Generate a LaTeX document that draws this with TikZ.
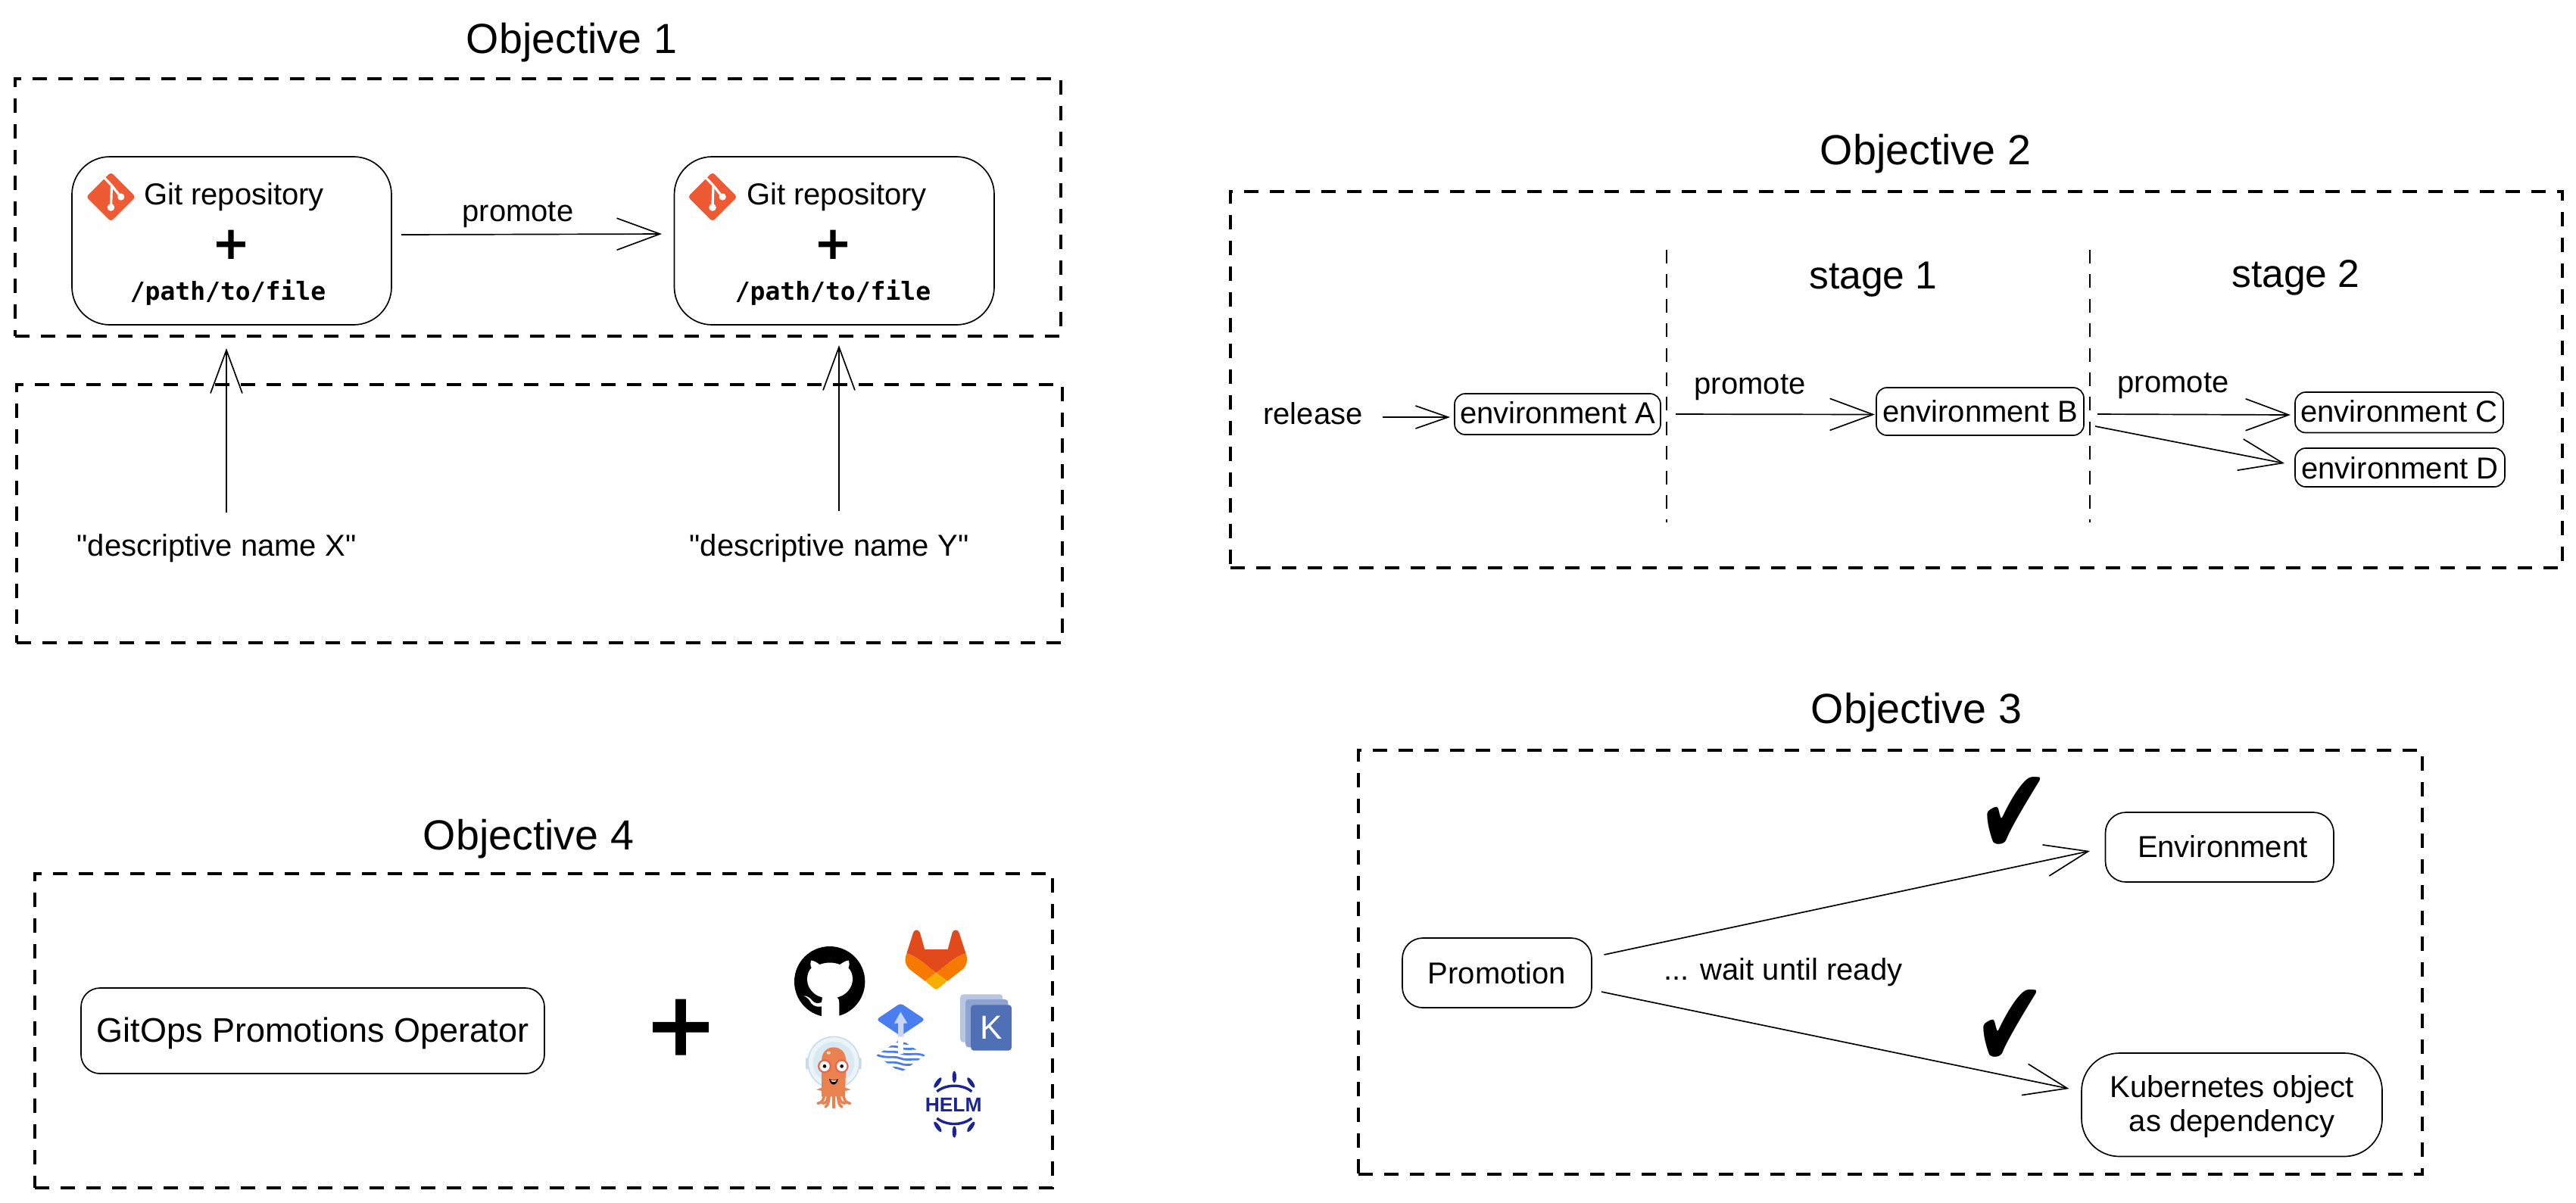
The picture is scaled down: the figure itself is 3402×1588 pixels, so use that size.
\documentclass[tikz,border=0pt]{standalone}
\usepackage{fontspec}
\setmainfont{Liberation Sans}
\setmonofont{DejaVu Sans Mono}
\newfontfamily\dejavu{DejaVu Sans}
\newfontfamily\plainsans{Liberation Sans}
\newfontfamily\plusfont[FakeBold=2.5]{Liberation Sans}
\usetikzlibrary{arrows.meta}
\definecolor{gitorange}{HTML}{EE5A33}
\definecolor{helmblue}{HTML}{1A2494}
\definecolor{fluxblue}{HTML}{4A7EF0}
\definecolor{fluxlight}{HTML}{C7D6F9}
\definecolor{kfront}{HTML}{4F70B5}
\definecolor{kmid}{HTML}{8FA3D2}
\definecolor{kback}{HTML}{B7C6E2}
\definecolor{glred}{HTML}{E24A1B}
\definecolor{glorange}{HTML}{F67A00}
\definecolor{glyellow}{HTML}{F6AE00}
\definecolor{argo}{HTML}{E9824F}
\definecolor{argoring}{HTML}{C8DCF0}
\definecolor{argoglass}{HTML}{EAF4F9}
\definecolor{argoinner}{HTML}{D8E9F2}
\definecolor{argoeye}{HTML}{E8654F}
\tikzset{
  wh/.style 2 args={minimum width=#1*0.25pt,minimum height=#2*0.25pt},
  frame/.style={draw,line width=0.8pt,dash pattern=on 4.75pt off 3.75pt,inner sep=0pt,outer sep=0pt},
  divider/.style={line width=0.5pt,dash pattern=on 4.5pt off 3.6pt},
  rbox/.style={draw,line width=0.42pt,rounded corners=#1*0.25pt,inner sep=0pt,outer sep=0pt,font=\fontsize{10}{11}\selectfont},
  bl/.style={text height=#1*0.5pt+2.5pt,text depth=2.5pt},
  lbl/.style={inner sep=0pt,outer sep=0pt,anchor=base,font=\fontsize{10}{11}\selectfont},
  desclbl/.style={lbl,font=\plainsans\fontsize{10}{11}\selectfont},
  titlelbl/.style={lbl,font=\fontsize{13.9}{15}\selectfont},
  stagelbl/.style={lbl,font=\fontsize{12.9}{14}\selectfont},
  pathlbl/.style={lbl,font=\ttfamily\bfseries\fontsize{8.25}{10}\selectfont},
  pluslbl/.style={inner sep=0pt,outer sep=0pt,anchor=center,font=\plusfont\fontsize{18.5}{18.5}\selectfont},
  arr/.style={line width=0.42pt,-{Straight Barb[length=14.25pt,width=10.5pt,line width=0.42pt]}},
  arrsmall/.style={line width=0.42pt,-{Straight Barb[length=10.75pt,width=7.5pt,line width=0.42pt]}},
  checkmark/.style={inner sep=0pt,outer sep=0pt,font=\dejavu\fontsize{24}{24}\selectfont,xscale=1.2,yscale=1.7,transform shape},
  gitlogo/.pic={
    \fill[gitorange,rounded corners=1pt] (-32.7,0) -- (0,-32.7) -- (32.7,0) -- (0,32.7) -- cycle;
    \draw[white,line width=0.8pt] (-8.5,-25) -- (1,-15) -- (13,0);
    \draw[white,line width=0.8pt] (1,-15) -- (0,14);
    \fill[white] (13.3,0) circle (4.6) (0,14) circle (4.8);
  },
}
\begin{document}
\begin{tikzpicture}[x=0.25pt,y=-0.25pt]
\useasboundingbox (0,0) rectangle (3402,1588);

% ---------- Objective 1
\node[titlelbl] (t1) at (755,70) {Objective 1};
\node[frame,wh={1381}{340}] (f1) at (710.5,274) {};
\node[frame,wh={1381}{341}] (f1b) at (712.5,678.5) {};
\node[rbox=50,wh={422}{222}] (git1) at (306,318) {};
\node[rbox=50,wh={422.5}{222}] (git2) at (1101.75,318) {};
\pic at (146.5,260) {gitlogo};
\pic at (941,260) {gitlogo};
\node[lbl] (g1t) at (309,270.5) {Git repository};
\node[lbl] (g2t) at (1105,270.5) {Git repository};
\node[pluslbl] (g1p) at (305,326) {+};
\node[pluslbl] (g2p) at (1100,326) {+};
\node[pathlbl] (g1f) at (301,396.5) {/path/to/file};
\node[pathlbl] (g2f) at (1100,396.5) {/path/to/file};
\node[lbl] (pr0) at (684,292) {promote};
\node[desclbl] (descX) at (286,734) {"descriptive name X"};
\node[desclbl] (descY) at (1095,734) {"descriptive name Y"};
\draw[arr] ([shift={(13,-8)}]git1.east) -- ([shift={(-16.5,-9)}]git2.west);
\draw[arr] ([shift={(13,-57)}]descX.base) -- ([shift={(-7,31)}]git1.south);
\draw[arr] ([shift={(13,-59)}]descY.base) -- ([shift={(6.25,27)}]git2.south);

% ---------- Objective 2
\node[titlelbl] (t2) at (2543,217) {Objective 2};
\node[frame,wh={1759}{497}] (f2) at (2504.5,501.5) {};
\coordinate (d1t) at (2201,330); \coordinate (d1b) at (2201,690);
\coordinate (d2t) at (2760,330); \coordinate (d2b) at (2760,690);
\draw[divider] (d1t) -- (d1b);
\draw[divider] (d2t) -- (d2b);
\node[stagelbl] (s1) at (2474,381) {stage 1};
\node[stagelbl] (s2) at (3032,379) {stage 2};
\node[lbl] (rel) at (1734,560) {release};
\node[rbox=14,wh={272}{54},bl=12] (ea) at (2057,547) {environment A};
\node[rbox=14,wh={274}{63},bl=13.5] (eb) at (2615,543.5) {environment B};
\node[rbox=14,wh={275}{53.5},bl=13] (ec) at (3168.5,544.75) {environment C};
\node[rbox=14,wh={277}{51},bl=14.5] (ed) at (3169.5,617.5) {environment D};
\node[lbl] (pr1) at (2311,520) {promote};
\node[lbl] (pr2) at (2870,518.5) {promote};
\draw[arrsmall] ([shift={(92,-9)}]rel.base) -- ([shift={(-6,4)}]ea.west);
\draw[arr] ([shift={(20,0)}]ea.east) -- ([shift={(-2,4)}]eb.west);
\draw[arr] ([shift={(18,3.5)}]eb.east) -- ([shift={(-6,3.25)}]ec.west);
\draw[arr] ([shift={(15,19.5)}]eb.east) -- ([shift={(-14,-5.5)}]ed.west);

% ---------- Objective 3
\node[titlelbl] (t3) at (2531,955.5) {Objective 3};
\node[frame,wh={1405}{560}] (f3) at (2496.5,1271) {};
\node[rbox=27,wh={301.5}{92},bl=13] (env) at (2931.25,1119) {\hspace*{2pt}Environment};
\node[rbox=27,wh={250}{92},bl=14] (prom) at (1977,1285) {Promotion};
\node[rbox=50,wh={397}{136.5},font=\fontsize{10}{11.25}\selectfont] (kube) at (2947.5,1459.25) {\raisebox{-3.1pt}[0pt][0pt]{\parbox[c]{90pt}{\centering Kubernetes object\\as dependency}}};
\node[lbl] (wait) at (2355,1294) {... wait until ready};
\draw[arr] ([shift={(16.5,-24)}]prom.east) -- ([shift={(-20.5,5)}]env.west);
\draw[arr] ([shift={(13,25)}]prom.east) -- ([shift={(-16.5,-21.25)}]kube.west);
\node[checkmark] (ck1) at (2660,1078) {✔};
\node[checkmark] (ck2) at (2655,1359) {✔};

% ---------- Objective 4
\node[titlelbl] (t4) at (698,1122.5) {Objective 4};
\node[frame,wh={1344}{415}] (f4) at (718,1361.5) {};
\node[rbox=25,wh={612}{113},bl=14.5,font=\fontsize{11.25}{12}\selectfont] (op) at (413,1361.5) {GitOps Promotions Operator};
\node[pluslbl,font=\plusfont\fontsize{36}{36}\selectfont] (bigplus) at (899,1363) {+};

% GitHub
\begin{scope}[shift={(1040,1240)},x=0.08333pt,y=-0.08333pt]
  \fill[black] (167,170) circle (140);
  \fill[white] (135,312) -- (135,268) .. controls (110,272) and (95,262) .. (88,245)
    .. controls (82,235) and (72,230) .. (65,226) .. controls (80,226) and (90,235) .. (98,245)
    .. controls (108,256) and (120,258) .. (135,252) -- (138,232)
    .. controls (105,225) and (78,195) .. (78,160) .. controls (78,140) and (85,125) .. (95,115)
    .. controls (90,105) and (90,95) .. (93,86) .. controls (105,86) and (118,95) .. (127,102)
    .. controls (155,92) and (180,92) .. (208,102) .. controls (218,95) and (230,86) .. (243,86)
    .. controls (246,95) and (246,105) .. (241,115) .. controls (251,125) and (258,140) .. (258,160)
    .. controls (258,195) and (230,225) .. (197,232) .. controls (203,238) and (205,245) .. (205,255)
    -- (205,312) -- cycle;
\end{scope}

% GitLab, Kustomize (zoom-2 coordinates)
\begin{scope}[shift={(850,1100)},x=0.0877pt,y=-0.08333pt]
  \fill[glred] (990,478) -- (1015,395) .. controls (1020,382) and (1034,382) .. (1040,395)
    -- (1058,462) -- (1145,462) -- (1162,395) .. controls (1168,382) and (1182,382) .. (1187,395)
    -- (1213,478) .. controls (1170,490) and (1140,525) .. (1101,555)
    .. controls (1062,525) and (1032,490) .. (990,478) -- cycle;
  \fill[glorange] (990,478) .. controls (1032,490) and (1062,525) .. (1101,555)
    -- (1060,588) -- (1010,548) .. controls (985,530) and (980,505) .. (990,478) -- cycle;
  \fill[glorange] (1213,478) .. controls (1170,490) and (1140,525) .. (1101,555)
    -- (1143,588) -- (1192,548) .. controls (1217,530) and (1222,505) .. (1213,478) -- cycle;
  \fill[glyellow,rounded corners=0.6pt] (1101,555) -- (1143,588) -- (1101,623) -- (1060,588) -- cycle;
  \fill[kback,rounded corners=1pt] (1192,640) rectangle (1352,830);
  \fill[kmid,rounded corners=1pt] (1212,660) rectangle (1372,850);
  \fill[kfront,rounded corners=1pt] (1232,682) rectangle (1385,863);
  \node[inner sep=0pt,outer sep=0pt,text=white,font=\fontsize{11}{11}\selectfont] (kust) at (1308,772) {K};
\end{scope}

% Flux
\begin{scope}[shift={(1150,1320)},x=0.08333pt,y=-0.08333pt]
  \fill[fluxblue,rounded corners=1pt] (22,80) -- (118,15) -- (215,80) -- (118,145) -- cycle;
  \fill[fluxlight] (118,50) -- (145,95) -- (130,95) -- (130,148) -- (108,148) -- (108,95) -- (93,95) -- cycle;
  \begin{scope}
    \clip (22,222) -- (118,158) -- (215,222) -- (118,290) -- cycle;
    \foreach \d in {-84,-63,-42,-21,0,21,42}{
      \draw[fluxblue,line width=0.7pt] (0,{225+\d}) .. controls (50,{265+\d}) and (80,{240+\d}) .. (118,{255+\d})
        .. controls (150,{268+\d}) and (190,{245+\d}) .. (230,{275+\d});
    }
    \fill[white] (108,150) rectangle (130,215);
  \end{scope}
\end{scope}

% Argo
\begin{scope}[shift={(1040,1340)},x=0.08333pt,y=-0.08333pt]
  \fill[argoring,rounded corners=0.4pt] (72,170) rectangle (84,218);
  \fill[argoring,rounded corners=0.4pt] (282,170) rectangle (293,218);
  \filldraw[fill=argoglass,draw=argoring,line width=0.4pt] (183,190) circle (102);
  \fill[argoinner] (183,190) circle (82);
  \fill[argo] (135,325) -- (135,185) .. controls (135,150) and (155,130) .. (183,130)
    .. controls (210,130) and (232,150) .. (232,185) -- (228,325) -- cycle;
  \foreach \a/\b/\c in {145/135/120,160/155/140,183/183/183,205/212/228,222/232/248}{
    \draw[argo,line width=0.9pt,line cap=round] (\a,315) .. controls (\a,340) and (\b,350) .. (\c,352);
  }
  \draw[argo,line width=0.9pt,line cap=round] (183,315) -- (183,368);
  \draw[argo,line width=0.9pt,line cap=round] (165,318) .. controls (165,345) and (160,360) .. (150,366);
  \draw[argo,line width=0.9pt,line cap=round] (200,318) .. controls (200,345) and (205,360) .. (215,366);
  \fill[argo] (115,298) -- (140,288) -- (140,304) -- cycle;
  \fill[argo] (250,298) -- (225,288) -- (225,304) -- cycle;
  \fill[white!70!argo] (163,152) ellipse (8 and 6);
  \foreach \ex in {147,215}{
    \fill[argoeye] (\ex,205) circle (27);
    \fill[white] (\ex,205) circle (20);
    \fill[black] (\ex,205) circle (7);
  }
  \fill[black] (165,255) .. controls (170,285) and (195,285) .. (201,255) .. controls (190,262) and (175,262) .. (165,255) -- cycle;
  \fill[white] (170,260) .. controls (178,270) and (188,270) .. (196,260) .. controls (188,263) and (178,263) .. (170,260) -- cycle;
\end{scope}

% Helm
\begin{scope}[shift={(1200,1405)},x=0.08333pt,y=-0.08333pt]
  \draw[helmblue,line width=0.85pt] (112,110) .. controls (150,80) and (212,80) .. (250,110);
  \draw[helmblue,line width=0.85pt] (112,216) .. controls (150,246) and (212,246) .. (250,216);
  \fill[helmblue] (181,52) ellipse (8 and 23);
  \fill[helmblue] (181,270) ellipse (8 and 23);
  \fill[helmblue,rotate around={-35:(115,75)}] (115,75) ellipse (8 and 24);
  \fill[helmblue,rotate around={35:(247,75)}] (247,75) ellipse (8 and 24);
  \fill[helmblue,rotate around={35:(115,250)}] (115,250) ellipse (8 and 24);
  \fill[helmblue,rotate around={-35:(247,250)}] (247,250) ellipse (8 and 24);
  \node[inner sep=0pt,outer sep=0pt,text=helmblue,font=\bfseries\fontsize{6.6}{7}\selectfont] (helm) at (177.5,163) {HELM};
\end{scope}
\end{tikzpicture}
\end{document}
